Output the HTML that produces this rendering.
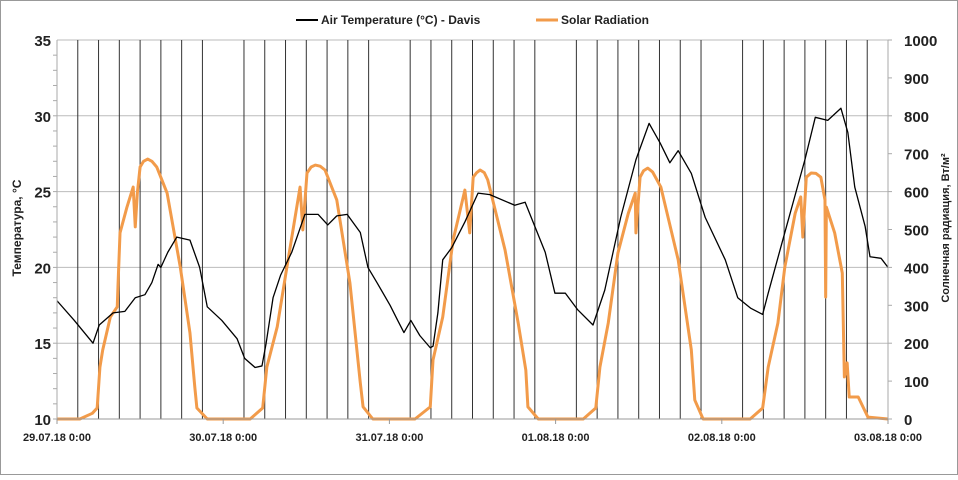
<!DOCTYPE html>
<html><head><meta charset="utf-8"><style>
body{margin:0;background:#fff}
svg text{font-family:"Liberation Sans",sans-serif;font-weight:bold;fill:#222}
</style></head><body>
<svg id="c" width="958" height="475" xmlns="http://www.w3.org/2000/svg">
<rect x="0.5" y="0.5" width="957" height="474" fill="#fff" stroke="#999"/>
<g id="grid"></g><g id="series"></g><g id="axes"></g>
<g>
<line x1="296" y1="20" x2="318" y2="20" stroke="#000" stroke-width="2"/>
<text x="321" y="24" font-size="12">Air Temperature (°C) - Davis</text>
<line x1="536" y1="20" x2="558" y2="20" stroke="#f29b4a" stroke-width="3"/>
<text x="561" y="24" font-size="12">Solar Radiation</text>
</g>
<text transform="translate(21,228) rotate(-90)" text-anchor="middle" font-size="12">Температура, °C</text>
<text transform="translate(949,228) rotate(-90)" text-anchor="middle" font-size="11">Солнечная радиация, Вт/м²</text>
</svg>
<script>
const dateLabels=["29.07.18 0:00","30.07.18 0:00","31.07.18 0:00","01.08.18 0:00","02.08.18 0:00","03.08.18 0:00"];
const leftTicks=[10,15,20,25,30,35];
const rightTicks=[0,100,200,300,400,500,600,700,800,900,1000];
const tempHours=[0,2.5,5.2,6.1,8.1,9.8,11.3,12.7,13.7,14.6,15.0,16.0,17.3,19.2,20.6,21.7,23.8,26.0,27.1,28.6,29.6,30.2,31.2,32.3,33.9,35.8,37.7,39.1,40.4,41.9,43.8,44.9,46.2,48.1,49.2,50.1,51.1,52.4,53.9,54.3,55.0,55.7,57.0,58.9,60.8,62.5,66.1,67.6,70.5,71.9,73.4,75.2,77.4,79.1,81.4,83.6,85.5,87.1,88.5,89.7,91.6,93.6,96.5,98.3,100.2,101.9,102.7,105.1,108.0,109.5,111.3,113.2,114.2,115.2,116.7,117.4,119.0,120.0];
const tempValues=[17.8,16.5,15.0,16.2,17.0,17.1,18.0,18.2,19.0,20.2,20.0,21.0,22.0,21.8,20.0,17.4,16.5,15.3,14.0,13.4,13.5,15.0,18.0,19.5,21.0,23.5,23.5,22.8,23.4,23.5,22.3,20.0,19.0,17.5,16.5,15.7,16.5,15.5,14.7,14.8,17.0,20.5,21.3,23.0,24.9,24.8,24.1,24.3,21.0,18.3,18.3,17.2,16.2,18.5,23.3,27.1,29.5,28.2,26.9,27.7,26.2,23.3,20.5,18.0,17.3,16.9,18.3,22.3,27.1,29.9,29.7,30.5,28.9,25.3,22.7,20.7,20.6,20.0];
const solarHours=[0,3.3,5.1,5.8,6.2,6.6,7.7,8.7,8.8,9.1,10.1,11.0,11.3,11.6,12.0,12.5,13.1,13.7,14.4,15.9,17.8,19.2,19.9,20.2,21.7,27.9,29.7,30.3,31.8,33.2,35.1,35.5,36.1,36.7,37.3,38.0,38.7,40.4,42.3,43.8,44.2,45.6,51.7,53.9,54.3,55.7,57.2,58.9,59.6,60.1,60.6,61.1,61.7,62.2,64.7,66.6,67.7,68.0,69.5,76.0,77.8,78.4,79.6,81.0,82.5,83.5,83.6,84.2,84.7,85.3,86.0,87.2,89.7,91.6,92.1,93.3,100.1,101.9,102.7,104.1,105.1,106.6,107.4,107.7,108.2,108.9,109.6,110.3,110.9,111.0,111.1,112.3,113.4,113.7,114.1,114.4,115.7,117.1,120];
const solarValues=[0,0,15,29,137,182,269,296,348,491,559,612,507,596,665,680,686,680,665,596,401,227,84,29,0,0,29,137,243,401,612,499,649,665,670,667,657,578,359,95,32,0,0,32,156,269,472,604,491,638,650,657,650,631,446,253,129,32,0,0,29,137,253,438,543,596,491,638,655,662,652,612,420,182,50,0,0,29,137,253,401,543,586,480,638,649,648,638,578,322,559,491,385,111,148,58,58,5,0];
const NS="http://www.w3.org/2000/svg";
const X0=57,X1=888,Y0=419,Y1=40;
const xS=h=>X0+(X1-X0)*h/120;
const yL=v=>Y0-(Y0-Y1)*(v-10)/25;
const yR=v=>Y0-(Y0-Y1)*v/1000;
function mk(p,t,a){const e=document.createElementNS(NS,t);for(const k in a)e.setAttribute(k,a[k]);p.appendChild(e);return e;}
const grid=document.getElementById('grid'),axes=document.getElementById('axes'),ser=document.getElementById('series');
leftTicks.forEach(v=>{if(v>10){const l=mk(grid,'line',{x1:X0,x2:X1,y1:yL(v),y2:yL(v),stroke:'#bbb','stroke-width':1});

}
const t=mk(axes,'text',{x:X0-6,y:yL(v)+6,'text-anchor':'end','font-size':15});t.textContent=v;

});
for(let v=10;v<35;v++){mk(axes,'line',{x1:X0-4,x2:X0,y1:yL(v),y2:yL(v),stroke:'#aaa'});}
rightTicks.forEach(v=>{const t=mk(axes,'text',{x:X1+16,y:yR(v)+6,'font-size':15});t.textContent=v;


mk(axes,'line',{x1:X1,x2:X1+4,y1:yR(v),y2:yR(v),stroke:'#aaa'});});
for(let h=3;h<120;h+=3){if(h%24===0)continue;const l=mk(grid,'line',{x1:xS(h),x2:xS(h),y1:Y1,y2:Y0,stroke:'#333','stroke-width':1});

}
mk(axes,'line',{x1:X0,x2:X0,y1:Y1,y2:Y0,stroke:'#aaa'});
mk(axes,'line',{x1:X1,x2:X1,y1:Y1,y2:Y0,stroke:'#aaa'});
mk(axes,'line',{x1:X0,x2:X1,y1:Y0,y2:Y0,stroke:'#999'});
dateLabels.forEach((d,i)=>{const x=xS(i*24);mk(axes,'line',{x1:x,x2:x,y1:Y0,y2:Y0+5,stroke:'#999'});
const t=mk(axes,'text',{x:x,y:Y0+22,'text-anchor':'middle','font-size':11});t.textContent=d;

});
const sp=mk(ser,'polyline',{points:solarHours.map((h,i)=>xS(h)+','+yR(solarValues[i])).join(' '),fill:'none',stroke:'#f29b4a','stroke-width':3,'stroke-linejoin':'round'});


const tp=mk(ser,'polyline',{points:tempHours.map((h,i)=>xS(h)+','+yL(tempValues[i])).join(' '),fill:'none',stroke:'#000','stroke-width':1.3,'stroke-linejoin':'round'});


</script>
</body></html>
